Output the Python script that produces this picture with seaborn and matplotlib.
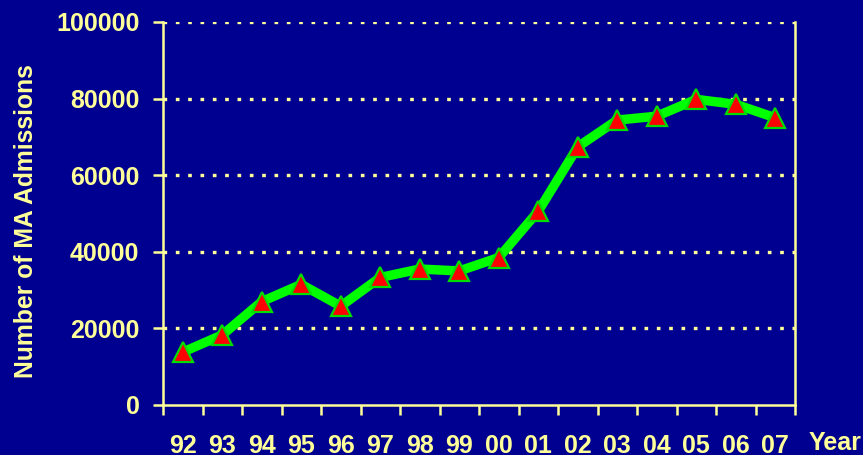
import matplotlib
matplotlib.use("Agg")
import matplotlib.pyplot as plt
import seaborn as sns
import pandas as pd

years = ["92", "93", "94", "95", "96", "97", "98", "99", "00", "01", "02", "03", "04", "05", "06", "07"]
admissions = [13800, 18300, 27000, 31500, 25800, 33300, 35500, 35000, 38500, 50600, 67400, 74400, 75400, 79800, 78500, 75000]
yticks = [0, 20000, 40000, 60000, 80000, 100000]

BG = "#000090"
TXT = "#FFFF99"

sns.set_theme(style="white")
plt.rcParams["font.family"] = ["Liberation Sans", "DejaVu Sans"]
plt.rcParams["font.weight"] = "bold"

df = pd.DataFrame({"year": years, "admissions": admissions})

fig = plt.figure(figsize=(8.63, 4.55), dpi=100, facecolor=BG)
ax = fig.add_axes([163/863, 1-405/455, (795-163)/863, (405-22)/455])
ax.set_facecolor(BG)

sns.lineplot(data=df, x="year", y="admissions", ax=ax, sort=False,
             color="#00FF00", linewidth=6.8, marker="^", markersize=15,
             markerfacecolor="#FF0000", markeredgecolor="#00DD00", markeredgewidth=1.6,
             zorder=3)

ax.set_xlim(-0.5, len(years) - 0.5)
ax.set_ylim(0, 100000)
ax.set_yticks(yticks)
ax.set_yticklabels([str(v) for v in yticks])
ax.set_xticks(range(len(years)))
ax.set_xticklabels(years)
ax.set_xticks([i - 0.5 for i in range(len(years) + 1)], minor=True)

for v in yticks[1:]:
    ax.axhline(v, color=TXT, lw=2.4, linestyle=(0, (1.1, 2.6)), zorder=1)

for s in ["left", "bottom", "right"]:
    ax.spines[s].set_visible(True)
    ax.spines[s].set_color(TXT)
    ax.spines[s].set_linewidth(1.8)
ax.spines["top"].set_visible(False)

ax.tick_params(axis="y", which="major", direction="out", length=7, width=1.8,
               color=TXT, labelcolor=TXT, labelsize=18, pad=10, left=True)
ax.tick_params(axis="x", which="major", length=0, labelcolor=TXT, labelsize=18, pad=21, bottom=True)
ax.tick_params(axis="x", which="minor", direction="out", length=7, width=1.8, color=TXT, bottom=True)
for lbl in ax.get_xticklabels() + ax.get_yticklabels():
    lbl.set_fontweight("bold")

ax.set_xlabel("")
ax.set_ylabel("Number of MA Admissions", color=TXT, fontsize=17.8, fontweight="bold")
ax.yaxis.set_label_coords(-(163 - 38) / 632, (405 - 221) / 383)
fig.text(835/863, 1-443/455, "Year", color=TXT, fontsize=18, fontweight="bold", ha="center", va="center")

fig.savefig("out.png", dpi=100, facecolor=BG)
